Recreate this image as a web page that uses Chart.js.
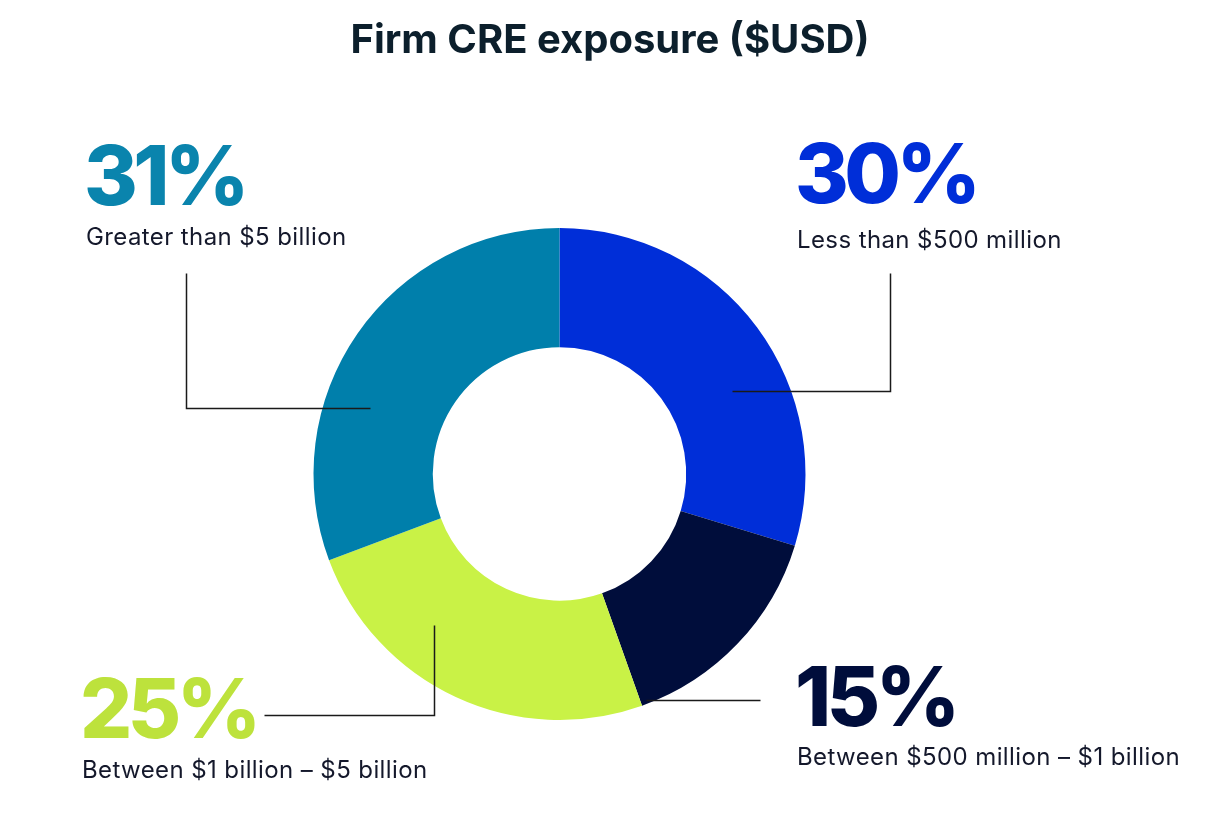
<!DOCTYPE html>
<html>
<head>
<meta charset="utf-8">
<script src="https://cdn.jsdelivr.net/npm/chart.js@4/dist/chart.umd.min.js"></script>
<style>
  html, body { margin: 0; padding: 0; background: #fff; }
  #wrap { width: 1228px; height: 824px; position: relative; }
</style>
</head>
<body>
<div id="wrap"><canvas id="myChart" width="1228" height="824"></canvas></div>
<script>
// data
const categorias = ['Less than $500 million', 'Between $500 million – $1 billion', 'Between $1 billion – $5 billion', 'Greater than $5 billion'];
const porcentajes = [30, 15, 25, 31];
const colores = ['#002ed8', '#000d3b', '#c9f246', '#007fab'];
const colorTexto = ['#002ed8', '#000d3b', '#bde23c', '#0a84ad'];
const titulo = 'Firm CRE exposure ($USD)';

// where each label sits and where its leader line goes (offsets from the doughnut centre)
const etiquetas = [
    { x: 795, y: 203, sub: 248, linea: [[172, -83], [330, -83], [330, -201]] },
    { x: 795, y: 726, sub: 765, linea: [[86, 226], [200, 226]] },
    { x: 80, y: 738, sub: 778, linea: [[-296, 241], [-126, 241], [-126, 151]] },
    { x: 84, y: 205, sub: 245, linea: [[-374, -201], [-374, -66], [-190, -66]] }
];

const textos = {
    id: 'textos',
    afterDraw(chart) {
        const ctx = chart.ctx;
        const arcos = chart.getDatasetMeta(0).data;
        const cx = arcos[0].x, cy = arcos[0].y;
        ctx.save();
        ctx.fillStyle = '#0c1f2c';
        ctx.font = '700 40px Inter';
        ctx.textAlign = 'center';
        ctx.textBaseline = 'alphabetic';
        ctx.letterSpacing = '0px';
        ctx.fillText(titulo, 610, 53);

        ctx.strokeStyle = '#1a1a1a';
        ctx.lineWidth = 1.5;
        etiquetas.forEach((e, i) => {
            ctx.beginPath();
            e.linea.forEach((p, j) => {
                const px = Math.round(cx + p[0]) + 0.5, py = Math.round(cy + p[1]) + 0.5;
                if (j === 0) ctx.moveTo(px, py); else ctx.lineTo(px, py);
            });
            ctx.stroke();

            ctx.textAlign = 'left';
            ctx.fillStyle = colorTexto[i];
            ctx.font = '800 82px Inter';
            ctx.letterSpacing = '-4.5px';
            ctx.fillText(porcentajes[i] + '%', e.x, e.y);

            ctx.fillStyle = '#14182b';
            ctx.font = '400 24px Inter';
            ctx.letterSpacing = '0.4px';
            ctx.fillText(categorias[i], e.x + 2, e.sub);
        });
        ctx.restore();
    }
};

const data = {
    labels: categorias,
    datasets: [{
        data: porcentajes,
        backgroundColor: colores,
        borderWidth: 0
    }]
};

const config = {
    type: 'doughnut',
    data: data,
    options: {
        responsive: false,
        animation: false,
        cutout: '51.5%',
        layout: { padding: { top: 228, bottom: 104, left: 313, right: 422 } },
        plugins: {
            legend: { display: false },
            tooltip: { enabled: false }
        }
    },
    plugins: [textos]
};

const myChart = new Chart(document.getElementById('myChart'), config);
</script>
</body>
</html>
